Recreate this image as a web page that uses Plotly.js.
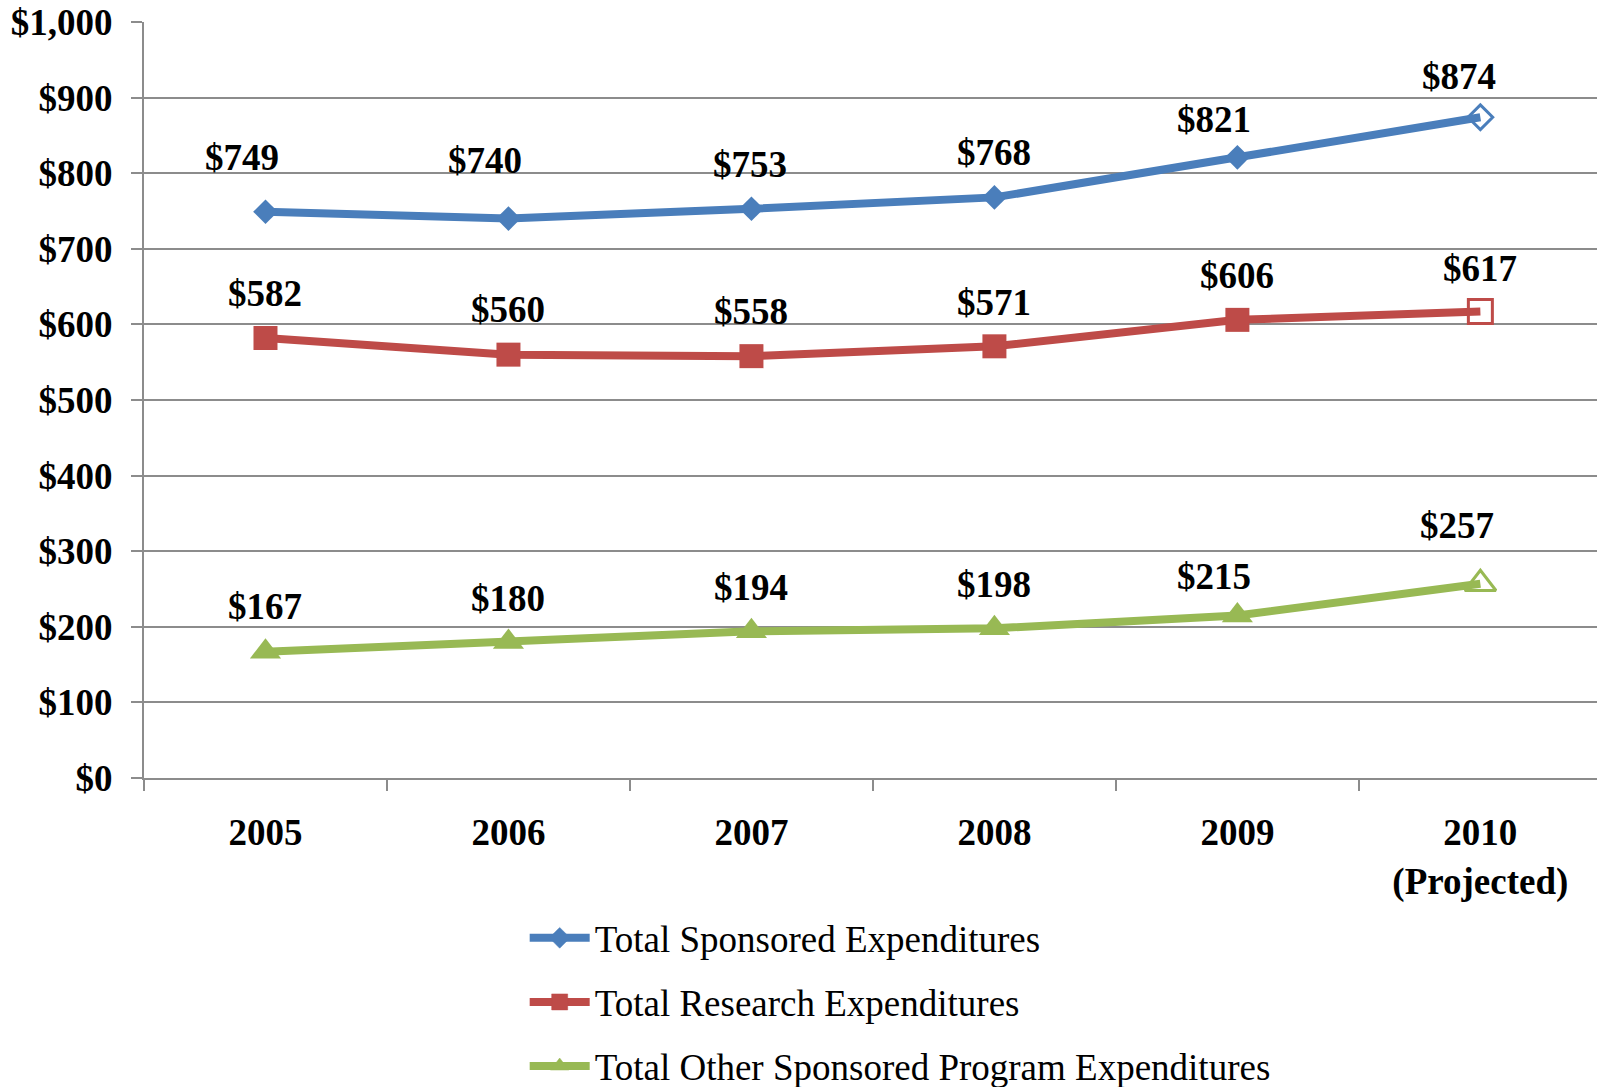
<!DOCTYPE html>
<html>
<head>
<meta charset="utf-8">
<script src="https://cdn.plot.ly/plotly-3.0.1.min.js"></script>
<style>
  html, body { margin: 0; padding: 0; background: #ffffff; overflow: hidden; }
  #chart { width: 1597px; height: 1087px; }
</style>
</head>
<body>
<div id="chart"></div>
<script>
// ---- data ----
const categories = ['2005', '2006', '2007', '2008', '2009', '2010<br>(Projected)'];
const sponsored = [749, 740, 753, 768, 821, 874];
const research = [582, 560, 558, 571, 606, 617];
const otherPrograms = [167, 180, 194, 198, 215, 257];
const seriesNames = [
  'Total Sponsored Expenditures',
  'Total Research Expenditures',
  'Total Other Sponsored Program Expenditures'
];

// ---- styling (label nudges in px, as placed in the original) ----
const labelShift = [
  [[-23, 54], [-23, 58], [-1, 44], [0, 45], [-23, 38], [-21, 41]],
  [[0, 45], [0, 45], [0, 45], [0, 44], [0, 44], [0, 43]],
  [[0, 45], [0, 43], [0, 44], [0, 44], [-23, 39], [-23, 58]]
];
const colors = ['#4A7EBB', '#BE4B48', '#98B954'];
const symbols = ['diamond', 'square', 'triangle-up'];
const sizes = [19, 24, 27];

const FONT = '"Liberation Serif", "Times New Roman", Times, serif';
const GRID = '#8c8c8c';

const allSeries = [sponsored, research, otherPrograms];

const traces = allSeries.map((vals, s) => {
  const n = vals.length;
  return {
    type: 'scatter',
    mode: 'lines+markers',
    name: seriesNames[s],
    legendgroup: 'g' + s,
    x: categories,
    y: vals,
    line: { color: colors[s], width: 8 },
    marker: {
      symbol: symbols[s],
      size: sizes[s],
      color: vals.map((v, i) => i === n - 1 ? 'rgba(255,255,255,0)' : colors[s]),
      line: { color: colors[s], width: vals.map((v, i) => i === n - 1 ? 3 : 0) }
    },
    cliponaxis: false,
    hoverinfo: 'x+y'
  };
});

const annotations = [];
allSeries.forEach((vals, s) => {
  vals.forEach((v, i) => {
    annotations.push({
      x: i,               // category index on the category axis
      y: v,
      xref: 'x',
      yref: 'y',
      text: '$' + v,
      showarrow: false,
      xanchor: 'center',
      yanchor: 'middle',
      xshift: labelShift[s][i][0],
      yshift: labelShift[s][i][1],
      font: { family: FONT, size: 37, color: '#000000', weight: 'bold' }
    });
  });
});

const layout = {
  width: 1597,
  height: 1087,
  margin: { l: 144, r: 0, t: 22, b: 309, autoexpand: false },
  paper_bgcolor: '#ffffff',
  plot_bgcolor: '#ffffff',
  font: { family: FONT, color: '#000000' },
  showlegend: true,
  legend: {
    orientation: 'v',
    x: 0.262,
    xanchor: 'left',
    y: -0.171,
    yanchor: 'top',
    font: { family: FONT, size: 37, color: '#000000' },
    tracegroupgap: 13,
    itemwidth: 60,
    bgcolor: 'rgba(0,0,0,0)'
  },
  xaxis: {
    type: 'category',
    range: [-0.5, 5.48],
    tickson: 'boundaries',
    ticks: 'outside',
    ticklen: 11,
    tickwidth: 2,
    tickcolor: GRID,
    showline: true,
    linecolor: GRID,
    linewidth: 2,
    showgrid: false,
    zeroline: false,
    ticklabelstandoff: 21,
    tickfont: { family: FONT, size: 37, color: '#000000', weight: 'bold' }
  },
  yaxis: {
    range: [0, 1000],
    dtick: 100,
    tick0: 0,
    tickformat: ',.0f',
    tickprefix: '$',
    ticks: 'outside',
    ticklen: 11,
    tickwidth: 2,
    tickcolor: GRID,
    showline: true,
    linecolor: GRID,
    linewidth: 2,
    showgrid: true,
    gridcolor: GRID,
    gridwidth: 2,
    zeroline: false,
    ticklabelstandoff: 11,
    tickfont: { family: FONT, size: 37, color: '#000000', weight: 'bold' }
  },
  annotations: annotations
};

Plotly.newPlot('chart', traces, layout, { displayModeBar: false, staticPlot: true });
</script>
</body>
</html>
